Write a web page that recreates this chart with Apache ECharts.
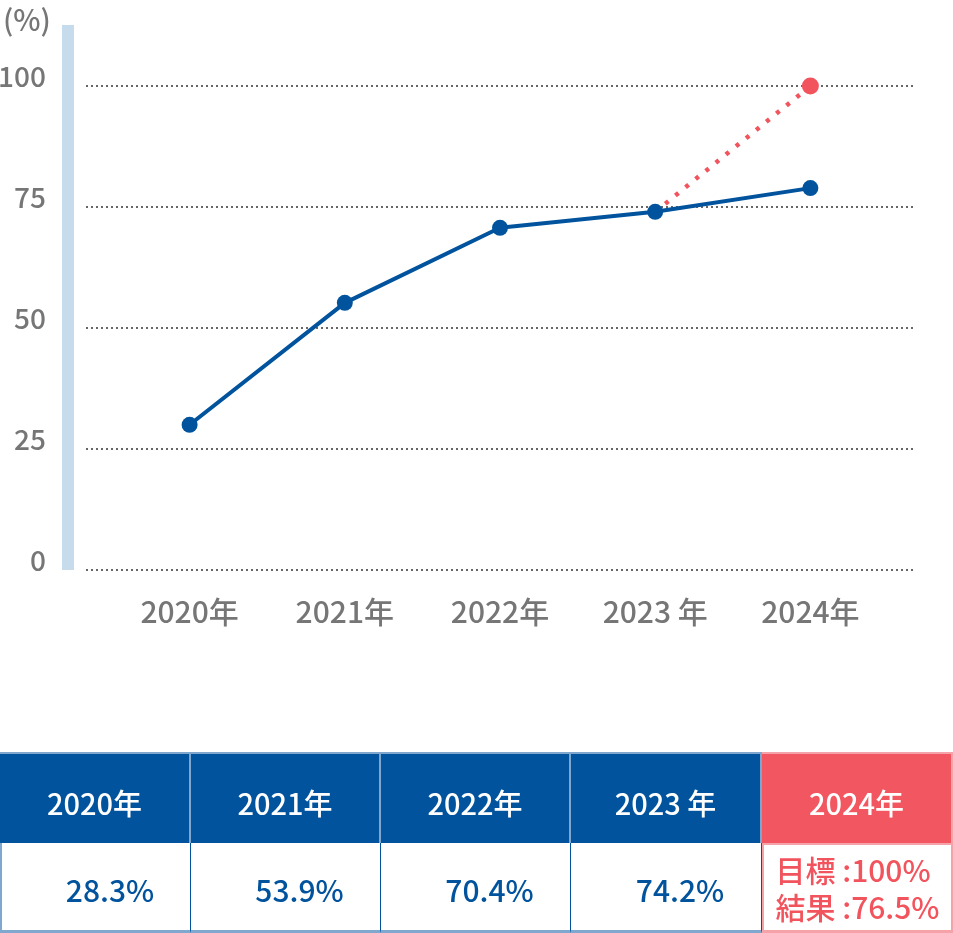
<!DOCTYPE html>
<html><head><meta charset="utf-8">
<script src="https://cdn.jsdelivr.net/npm/echarts@6/dist/echarts.min.js"></script>
<style>
html,body{margin:0;padding:0;background:#fff;}
#wrap{position:relative;width:953px;height:933px;overflow:hidden;font-family:"Noto Sans CJK JP","Noto Sans",sans-serif;}
#chart{position:absolute;left:0;top:0;width:953px;height:933px;}
#tbl{position:absolute;left:0;top:752px;width:953px;height:181px;}
.row{display:flex;width:953px;}
.hd{height:91px;}
.bd{height:90px;}
.cell{box-sizing:border-box;flex:0 0 auto;display:flex;align-items:center;justify-content:center;}
.hd .cell{background:#00539c;color:#fff;font-size:29px;font-weight:500;border-top:2px solid #7fa6cd;border-right:2px solid #7fa6cd;padding-top:6px;}
.hd .cell.last{background:#f25660;border-top:2px solid #f5a3a8;border-right:2px solid #f5a3a8;border-left:0;}
.bd .cell{background:#fff;color:#00539c;font-size:30px;font-weight:500;border-right:1px solid #00539c;border-bottom:3px solid #80a8cf;padding-left:28px;padding-top:4px;}
.bd .cell.first{border-left:2px solid #80a8cf;}
.bd .cell.last{color:#f2545e;border:2px solid #f5a3a8;border-bottom:3px solid #f5a3a8;padding-left:0;padding-top:0;line-height:37px;font-size:30px;}
.bd .cell.last div{text-align:left;}
</style>
</head><body>
<div id="wrap">
<div id="chart"></div>
<div id="tbl"></div>
</div>
<script>
// ---- data ----
const categories = ['2020年', '2021年', '2022年', '2023 年', '2024年'];
const resultValues = [30.0, 55.2, 70.7, 74.0, 78.9];       // plotted results
const targetValues = [null, null, null, 74.0, 100];        // 2024 target path
const yTicks = [0, 25, 50, 75, 100];
const tableHeaders = ['2020年', '2021年', '2022年', '2023 年', '2024年'];
const tableValues = ['28.3%', '53.9%', '70.4%', '74.2%'];
const lastCellLines = ['目標 :100%', '結果 :76.5%'];

const FONT = '"Noto Sans CJK JP","Noto Sans",sans-serif';
const BLUE = '#00539c';
const RED = '#f2545e';
const GRAY = '#767676';

const chart = echarts.init(document.getElementById('chart'), null, {renderer: 'canvas'});
const targetData = targetValues.map((v, i) => {
  if (v === null) return null;
  if (i === targetValues.length - 1) return v;
  return {value: v, symbol: 'none'};
});

chart.setOption({
  animation: false,
  title: {text: '(%)', left: -2, top: 0, textStyle: {fontFamily: FONT, fontSize: 29, fontWeight: 500, color: GRAY}},
  grid: [
    {left: 62, width: 12, top: 25, bottom: 363, outerBoundsMode: 'none', containLabel: false},
    {left: 86, right: 39, top: 86, bottom: 363, outerBoundsMode: 'none', containLabel: false},
    {left: 112, right: 65, top: 86, bottom: 363, outerBoundsMode: 'none', containLabel: false}
  ],
  xAxis: [
    {gridIndex: 0, type: 'value', show: false},
    {gridIndex: 1, type: 'value', show: false},
    {gridIndex: 2, type: 'category', data: categories, boundaryGap: true,
     axisLine: {show: false}, axisTick: {show: false},
     axisLabel: {margin: 27, fontFamily: FONT, fontSize: 30, fontWeight: 500, color: GRAY}}
  ],
  yAxis: [
    {gridIndex: 0, type: 'value', min: 0, max: 1, position: 'left', offset: -6,
     axisLine: {show: true, lineStyle: {color: '#c6dbeb', width: 12, cap: 'butt'}},
     axisTick: {show: false}, axisLabel: {show: false}, splitLine: {show: false}},
    {gridIndex: 1, type: 'value', min: yTicks[0], max: yTicks[yTicks.length - 1], interval: 25,
     axisLine: {show: false}, axisTick: {show: false},
     axisLabel: {margin: 40, fontFamily: FONT, fontSize: 28, fontWeight: 500, color: GRAY, verticalAlign: 'bottom', lineHeight: 20},
     splitLine: {show: true, lineStyle: {color: '#666', width: 2, type: [2, 3]}}},
    {gridIndex: 2, type: 'value', min: 0, max: 100, show: false, splitLine: {show: false}}
  ],
  series: [
    {type: 'line', xAxisIndex: 2, yAxisIndex: 2, data: targetData, z: 2,
     symbol: 'circle', symbolSize: 17, connectNulls: false,
     itemStyle: {color: RED},
     lineStyle: {color: RED, width: 4.5, type: [4, 9], cap: 'butt'}},
    {type: 'line', xAxisIndex: 2, yAxisIndex: 2, data: resultValues, z: 3,
     symbol: 'circle', symbolSize: 16,
     itemStyle: {color: BLUE},
     lineStyle: {color: BLUE, width: 4}}
  ]
});

// ---- table ----
const tbl = document.getElementById('tbl');
const widths = [191, 190, 190, 191, 191];
let hd = '<div class="row hd">';
tableHeaders.forEach((h, i) => {
  hd += `<div class="cell${i === 4 ? ' last' : ''}" style="width:${widths[i]}px">${h}</div>`;
});
hd += '</div>';
let bd = '<div class="row bd">';
tableValues.forEach((v, i) => {
  bd += `<div class="cell${i === 0 ? ' first' : ''}" style="width:${widths[i]}px">${v}</div>`;
});
bd += `<div class="cell last" style="width:${widths[4]}px"><div>${lastCellLines.join('<br>')}</div></div>`;
bd += '</div>';
tbl.innerHTML = hd + bd;
</script>
</body></html>
